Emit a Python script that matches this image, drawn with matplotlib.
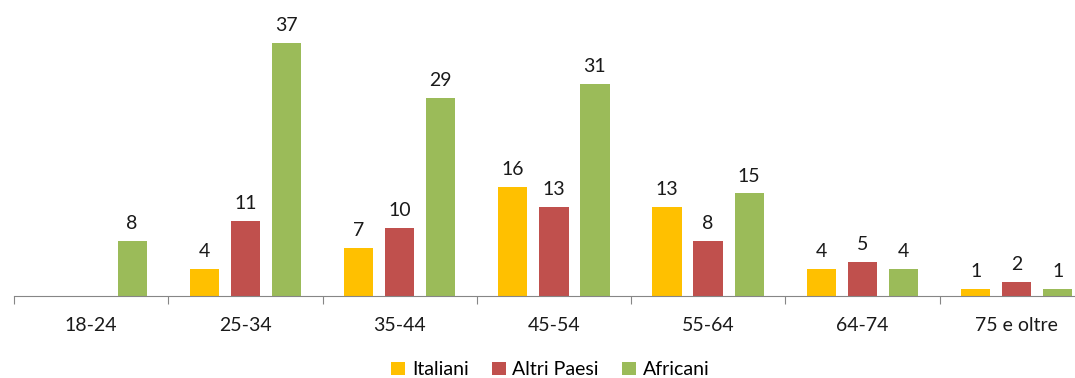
import matplotlib
matplotlib.use("Agg")
import matplotlib.pyplot as plt
import numpy as np

categories = ["18-24", "25-34", "35-44", "45-54", "55-64", "64-74", "75 e oltre"]
italiani = [0, 4, 7, 16, 13, 4, 1]
altri_paesi = [0, 11, 10, 13, 8, 5, 2]
africani = [8, 37, 29, 31, 15, 4, 1]
series_names = ["Italiani", "Altri Paesi", "Africani"]
colors = ["#FFC000", "#C0504D", "#9BBB59"]

plt.rcParams['font.family'] = ['Lato', 'DejaVu Sans']

fig = plt.figure(figsize=(10.75, 3.78), dpi=100)
ax = fig.add_axes([14 / 1075, 0.217, 1079.75 / 1075, 0.723])

x = np.arange(len(categories))
width = 0.19
offsets = [-0.266, 0.0, 0.266]
handles = []
for vals, off, col, name in zip([italiani, altri_paesi, africani], offsets, colors, series_names):
    bars = ax.bar(x + off, vals, width, color=col, label=name)
    handles.append(bars)
    for xi, v in zip(x + off, vals):
        if v > 0:
            ax.text(xi, v + 1.3, str(v), ha='center', va='bottom', fontsize=14, color='#1a1a1a')

ax.set_xlim(-0.5, len(categories) - 0.5)
ax.set_ylim(0, 40)
for s in ['top', 'right', 'left']:
    ax.spines[s].set_visible(False)
ax.spines['bottom'].set_color('#868686')
ax.set_yticks([])
ax.set_xticks(np.arange(-0.5, len(categories), 1.0))
ax.set_xticklabels([])
ax.set_xticks(x, minor=True)
ax.set_xticklabels(categories, minor=True, fontsize=14, color='#1a1a1a')
ax.tick_params(axis='x', which='major', direction='out', length=6, color='#868686')
ax.tick_params(axis='x', which='minor', length=0, pad=15)

fig.legend(handles=handles, labels=series_names, loc='center', bbox_to_anchor=(0.512, 0.022),
           ncol=3, frameon=False, fontsize=14, handlelength=0.7, handleheight=0.7,
           handletextpad=0.35, columnspacing=1.2)

fig.savefig("out.png", dpi=100)
